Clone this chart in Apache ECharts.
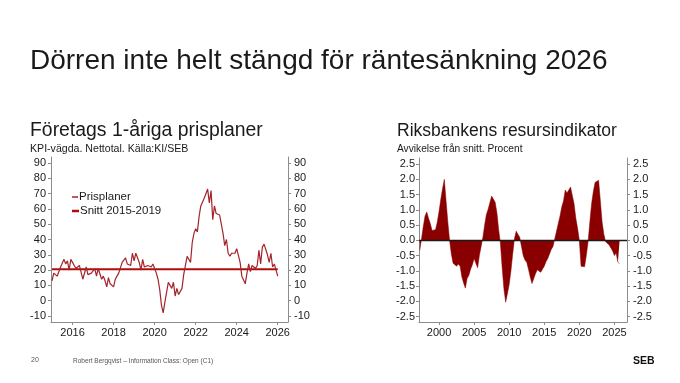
<!DOCTYPE html>
<html><head><meta charset="utf-8">
<script src="https://cdn.jsdelivr.net/npm/echarts@6/dist/echarts.min.js"></script>
<style>html,body{margin:0;padding:0;background:#fff}#c{width:680px;height:383px}</style>
</head><body><div id="c"></div>
<script>
// ---------- DATA ----------
const mainTitle = 'Dörren inte helt stängd för räntesänkning 2026';
const leftTitle = 'Företags 1-åriga prisplaner';
const leftSub = 'KPI-vägda. Nettotal. Källa:KI/SEB';
const rightTitle = 'Riksbankens resursindikator';
const rightSub = 'Avvikelse från snitt. Procent';
const footerPage = '20';
const footerText = 'Robert Bergqvist – Information Class: Open (C1)';

// Monthly price plans, starting Jan 2015
const prisStartYear = 2015;
const prisplaner = [
 13,18,17,16,17,22,23,27,24,26,20,27,
 25,23,21,20,23,22,14,13,22,17,18,18,
 17,21,16,21,20,14,16,13,9,15,11,12,
 9,14,16,18,19,25,26,28,24,24,23,31,
 26,31,28,25,20,27,22,23,23,24,22,24,
 21,18,14,7,-3,-8,-1,0,12,12,8,12,
 3,8,4,4,8,17,18,29,30,25,38,44,
 47,45,55,62,61,67,70,73,64,72,53,62,
 57,57,56,50,44,36,40,31,29,31,31,31,
 34,34,25,16,15,11,18,24,19,23,22,21,
 23,33,24,35,37,37,30,25,31,22,24,23,
 16
];
const priceLabel = 'Prisplaner';
const snittLabel = 'Snitt 2015-2019';
const snittValue = 20.5;
const leftYTicks = [-10,0,10,20,30,40,50,60,70,80,90];
const leftXTicks = [2016,2018,2020,2022,2024,2026];

// Quarterly resource indicator, first point 1997 Q1
const resStartYear = 1997;
const resursindikator = [
 -0.33,0.05,0.45,0.8,
 0.93,0.72,0.55,0.32,
 0.32,0.35,0.6,0.95,
 1.35,1.7,2.0,1.3,
 0.6,0.0,-0.45,-0.75,
 -0.7,-0.85,-0.78,-0.85,
 -1.2,-1.4,-1.57,-1.25,
 -1.15,-0.95,-0.8,-0.6,
 -0.75,-0.9,-0.5,-0.2,
 0.1,0.5,0.85,1.02,
 0.98,1.45,1.47,1.25,
 0.9,0.35,-0.1,-0.9,
 -1.6,-2.03,-1.75,-1.45,
 -1.0,-0.45,0.05,0.3,
 0.33,0.1,-0.2,-0.5,
 -0.65,-0.72,-0.95,-1.2,
 -1.42,-1.4,-1.1,-0.97,
 -0.95,-1.05,-0.95,-0.85,
 -0.7,-0.6,-0.45,-0.3,
 -0.2,0.05,0.3,0.55,
 0.8,1.1,1.3,1.65,
 1.55,1.6,1.75,1.78,
 1.2,0.73,0.4,0.0,
 -0.85,-0.85,-0.87,-0.5,
 -0.05,0.6,1.2,1.6,
 1.9,1.93,1.97,1.3,
 0.6,0.2,-0.05,-0.1,
 -0.15,-0.25,-0.35,-0.5,
 -0.42,-0.72,-0.77
];
const rightYTicks = [-2.5,-2.0,-1.5,-1.0,-0.5,0.0,0.5,1.0,1.5,2.0,2.5];
const rightXTicks = [2000,2005,2010,2015,2020,2025];

// ---------- CHART ----------
const FONT = '"Liberation Sans", Arial, Helvetica, sans-serif';
const TXT = '#1a1a1a';
const AX = '#8c8c8c';
const PRIS_C = '#a3252b';
const SNITT_C = '#b00c0c';
const RES_C = '#8a0000';
const prisData = prisplaner.map((v, i) => [prisStartYear + i / 12, v]);
const prisEnd = prisStartYear + (prisplaner.length - 1) / 12;
const snittData = [[prisStartYear, snittValue], [prisEnd, snittValue]];
const resData = resursindikator.map((v, i) => [resStartYear + 0.25 + i / 4, v]);

function yAx(grid, pos, min, max, ticks, fmt, margin) {
  return {
    type: 'value', gridIndex: grid, position: pos, min, max,
    splitLine: {show: false},
    axisLine: {show: true, lineStyle: {color: AX, width: 1}},
    axisTick: {show: true, length: 3, customValues: ticks, lineStyle: {color: AX}},
    axisLabel: {show: true, customValues: ticks, formatter: fmt, color: TXT, fontFamily: FONT, fontSize: 11, margin}
  };
}
function xAx(grid, min, max, ticks) {
  return {
    type: 'value', gridIndex: grid, min, max,
    splitLine: {show: false},
    axisLine: {show: true, onZero: false, lineStyle: {color: AX, width: 1}},
    axisTick: {show: true, length: 3, customValues: ticks, lineStyle: {color: AX}},
    axisLabel: {show: true, customValues: ticks, formatter: v => String(v), color: TXT, fontFamily: FONT, fontSize: 11, margin: 5}
  };
}
function ttl(text, left, top, size, color, weight) {
  return {text, left, top, padding: 0,
    textStyle: {fontFamily: FONT, fontSize: size, fontWeight: weight || 'normal', color: color || TXT}};
}

const chart = echarts.init(document.getElementById('c'), null, {renderer: 'canvas'});
chart.setOption({
  animation: false,
  backgroundColor: '#fff',
  title: [
    ttl(mainTitle, 30, 47, 28),
    ttl(leftTitle, 30, 121, 19.4),
    ttl(leftSub, 30, 144, 10.6),
    ttl(rightTitle, 397, 122, 17.5),
    ttl(rightSub, 397, 144, 10.2),
    ttl(footerPage, 31, 357, 7, '#555'),
    ttl(footerText, 73, 357.5, 6.5, '#555'),
    ttl('SEB', 633, 356, 10.5, '#111', 'bold')
  ],
  legend: [
    {left: 72, top: 191, padding: 0, itemWidth: 6, itemHeight: 1.5, itemGap: 0, icon: 'rect',
     textStyle: {fontFamily: FONT, fontSize: 11.5, color: TXT, padding: [0, 0, 0, -4]},
     data: [priceLabel]},
    {left: 72, top: 205, padding: 0, itemWidth: 7, itemHeight: 2.5, itemGap: 0, icon: 'rect',
     textStyle: {fontFamily: FONT, fontSize: 11.5, color: TXT, padding: [0, 0, 0, -4]},
     data: [snittLabel]}
  ],
  grid: [
    {left: 51, top: 157, width: 237, height: 165},
    {left: 419, top: 158, width: 208, height: 164}
  ],
  xAxis: [xAx(0, 2014.95, 2026.5, leftXTicks), xAx(1, 1997.14, 2026.8, rightXTicks)],
  yAxis: [
    yAx(0, 'left', -14, 94, leftYTicks, v => String(v), 5),
    yAx(0, 'right', -14, 94, leftYTicks, v => String(v), 6),
    yAx(1, 'left', -2.68, 2.7, rightYTicks, v => v.toFixed(1), 4),
    yAx(1, 'right', -2.68, 2.7, rightYTicks, v => v.toFixed(1), 6)
  ],
  series: [
    {name: priceLabel, type: 'line', xAxisIndex: 0, yAxisIndex: 0, data: prisData,
     symbol: 'none', lineStyle: {color: PRIS_C, width: 1.2}, itemStyle: {color: PRIS_C}, z: 3},
    {name: snittLabel, type: 'line', xAxisIndex: 0, yAxisIndex: 0, data: snittData,
     symbol: 'none', lineStyle: {color: SNITT_C, width: 2}, itemStyle: {color: SNITT_C}, z: 2},
    {name: 'Resursindikator', type: 'line', xAxisIndex: 1, yAxisIndex: 2, data: resData,
     symbol: 'none', lineStyle: {color: RES_C, width: 0.5}, itemStyle: {color: RES_C},
     areaStyle: {color: RES_C, opacity: 1, origin: 0},
     markLine: {silent: true, symbol: 'none', label: {show: false},
       lineStyle: {color: '#1a1a1a', width: 1.3, type: 'solid'}, data: [{yAxis: 0}]}, z: 2}
  ]
});
</script>
</body></html>
